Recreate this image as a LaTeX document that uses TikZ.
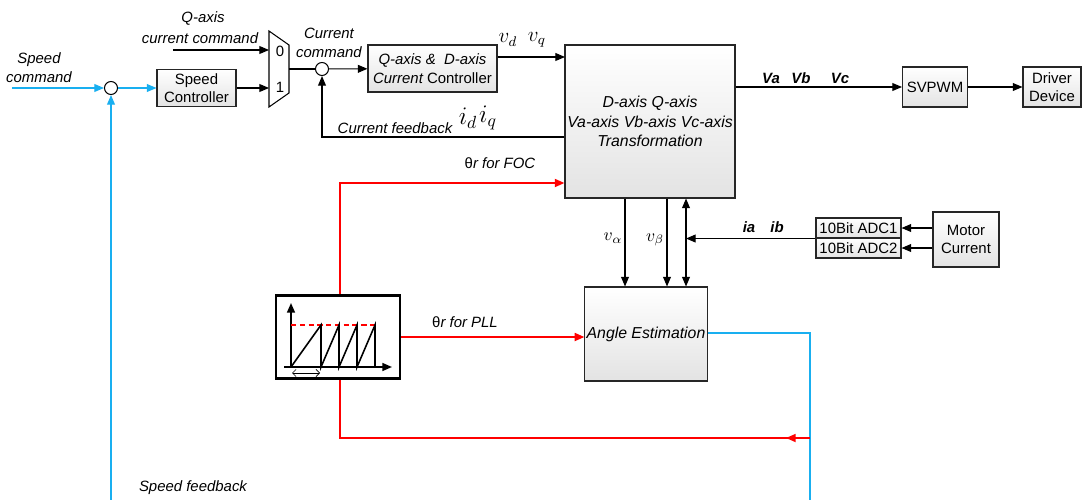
\documentclass[tikz,border=0pt]{standalone}
\usepackage{fontspec}
\setmainfont{Liberation Sans}
\usepackage{tikz}
\usetikzlibrary{arrows.meta, calc}
\usetikzlibrary{positioning}
\definecolor{fbblue}{RGB}{25,175,240}

\begin{document}
\begin{tikzpicture}[x=0.02cm,y=-0.02cm,>={Triangle[length=5.5pt,width=4.5pt]},
    font=\fontsize{8.5}{10.5}\selectfont, line width=0.6pt,
    blk/.style={draw=black!85,top color=white,bottom color=gray!22,align=center,inner sep=1pt},
    sumpt/.style={draw,circle,fill=white,minimum size=0.26cm,inner sep=0pt},
    lbl/.style={font=\fontsize{8.5}{10.5}\selectfont\itshape,align=center,inner sep=0pt},
    blbl/.style={font=\fontsize{8.5}{10.5}\selectfont\bfseries\itshape,inner sep=0pt},
    mlbl/.style={font=\fontsize{12}{14}\selectfont,inner sep=0pt}]
    \useasboundingbox (0,0) rectangle (1082,500);
    % Bloecke
    \node[blk,minimum width=1.58cm,minimum height=0.74cm] (spdctl) at (196.5,88) {Speed\\Controller};
    \node[blk,minimum width=2.58cm,minimum height=0.94cm] (qdctl) at (432.5,68.5) {\itshape Q-axis \&\ \ D-axis\\{\itshape Current} Controller};
    \node[blk,minimum width=3.4cm,minimum height=3.06cm,font=\fontsize{9}{11}\selectfont\itshape] (transf) at (650,121.5) {D-axis Q-axis\\Va-axis Vb-axis Vc-axis\\Transformation};
    \node[blk,minimum width=1.3cm,minimum height=0.8cm] (svpwm) at (935,87) {SVPWM};
    \node[blk,minimum width=1.16cm,minimum height=0.8cm] (driver) at (1052,87) {Driver\\Device};
    \node[blk,minimum width=1.7cm,minimum height=0.4cm] (adc1) at (858.5,228) {10Bit ADC1};
    \node[blk,minimum width=1.7cm,minimum height=0.4cm] (adc2) at (858.5,248) {10Bit ADC2};
    \node[blk,minimum width=1.32cm,minimum height=1.1cm] (motor) at (966,239.5) {Motor\\Current};
    \node[blk,minimum width=2.44cm,minimum height=1.88cm,font=\fontsize{9}{11}\selectfont\itshape] (angle) at (646,334) {Angle Estimation};
    \node[draw,line width=1.3pt,fill=white,minimum width=2.48cm,minimum height=1.66cm] (saw) at (338,337) {};
    \node[sumpt] (sum1) at (111,88) {};
    \node[sumpt] (sum2) at (322,69) {};
    % Multiplexer
    \draw[fill=white] (269,31) -- (289,45) -- (289,93) -- (269,107) -- cycle;
    \coordinate (mux0) at (269,50);
    \coordinate (mux1) at (269,88);
    \coordinate (muxout) at (289,69);
    \node (sel0) at (280,51) {0};
    \node (sel1) at (280,87) {1};
    % Drehzahlregelkreis
    \coordinate (spdin) at (12,88);
    \coordinate (spdfb) at (111,500);
    \draw[fbblue,->] (spdin) -- (sum1);
    \draw[fbblue,->] (sum1) -- (spdctl);
    \draw[fbblue,->] (spdfb) -- (sum1);
    \draw[->] (spdctl) -- (mux1);
    \coordinate (qin) at (173,50);
    \draw[->] (qin) -- (mux0);
    \draw (muxout) -- (sum2);
    \draw[->] (sum2) -- (qdctl);
    % Stromregelkreis
    \coordinate (tin) at (565,57);
    \draw[->] (qdctl.east |- tin) -- (tin);
    \coordinate (fbturn) at (322,137);
    \draw[->] (transf.west |- fbturn) -- (fbturn) -- (sum2);
    \draw[->] (transf.east |- svpwm) -- (svpwm);
    \draw[->] (svpwm) -- (driver);
    % Winkel
    \coordinate (xa) at (625,0);
    \coordinate (xb) at (667,0);
    \coordinate (xc) at (686,0);
    \draw[->] (transf.south -| xa) -- (angle.north -| xa);
    \draw[->] (transf.south -| xb) -- (angle.north -| xb);
    \draw[<->] (transf.south -| xc) -- (angle.north -| xc);
    \draw[->] (adc1.south west) -- (xc |- adc1.south);
    \draw[->] (motor.west |- adc1) -- (adc1);
    \draw[->] (motor.west |- adc2) -- (adc2);
    \coordinate (focturn) at (340,183);
    \draw[red,line width=1.1pt,->] (saw.north -| focturn) -- (focturn) -- (transf.west |- focturn);
    \draw[red,line width=1.1pt,->] (saw.east) -- (saw.east -| angle.west);
    \coordinate (bturn) at (810,333);
    \coordinate (bend) at (810,500);
    \draw[fbblue,line width=0.8pt] (angle.east |- bturn) -- (bturn) -- (bend);
    \coordinate (rstart) at (810,438);
    \coordinate (rturn) at (340,438);
    \draw[red,line width=1.1pt,->] (rstart) -- ++(-24,0);
    \draw[red,line width=1.1pt] (rstart) -- (rturn) -- (saw.south -| rturn);
    % Saegezahn
    \draw[->,line width=1pt] (291,367) -- (291,303);
    \draw[->,line width=1pt] (284,367) -- (392,367);
    \draw[red,dash pattern=on 3pt off 2pt,line width=0.7pt] (291,325) -- (375,325);
    \draw[line width=0.9pt] (291,367) -- (321,325) -- (321,367) -- (339,325) -- (339,367) -- (357,325) -- (357,367) -- (375,325) -- (375,367);
    \draw[{Straight Barb[length=2pt]}-{Straight Barb[length=2pt]},line width=0.4pt] (292,373) -- (320,373);
    % Beschriftungen
    \node[lbl] (tspd) at (39,67.5) {Speed\\command};
    \node[lbl] (tq) at (203,19) {Q-axis};
    \node[lbl] (tqcmd) at (200,38) {current command};
    \node[lbl,align=center] (tcur) at (329,43) {Current\\command};
    \node[mlbl] (tvd) at (508,40) {$v_d$};
    \node[mlbl] (tvq) at (537,40) {$v_q$};
    \node[lbl] (tcfb) at (395,128) {Current feedback};
    \node[font=\fontsize{14}{16}\selectfont,inner sep=0pt] (tid) at (468,118) {$i_d$};
    \node[font=\fontsize{14}{16}\selectfont,inner sep=0pt] (tiq) at (488,118) {$i_q$};
    \node[blbl] (tva) at (771,78) {Va};
    \node[blbl] (tvb) at (801,78) {Vb};
    \node[blbl] (tvc) at (840,78) {Vc};
    \node[lbl] (tfoc) at (500,163) {{\upshape θ}r for FOC};
    \node[lbl] (tpll) at (465,322) {{\upshape θ}r for PLL};
    \node[font=\fontsize{10}{12}\selectfont,inner sep=0pt] (tval) at (613,238) {$v_\alpha$};
    \node[font=\fontsize{10}{12}\selectfont,inner sep=0pt] (tvbe) at (655,240) {$v_\beta$};
    \node[blbl] (tia) at (749,227) {ia};
    \node[blbl] (tib) at (777,227) {ib};
    \node[lbl] (tsfb) at (193,488) {Speed feedback};
\end{tikzpicture}
\end{document}
